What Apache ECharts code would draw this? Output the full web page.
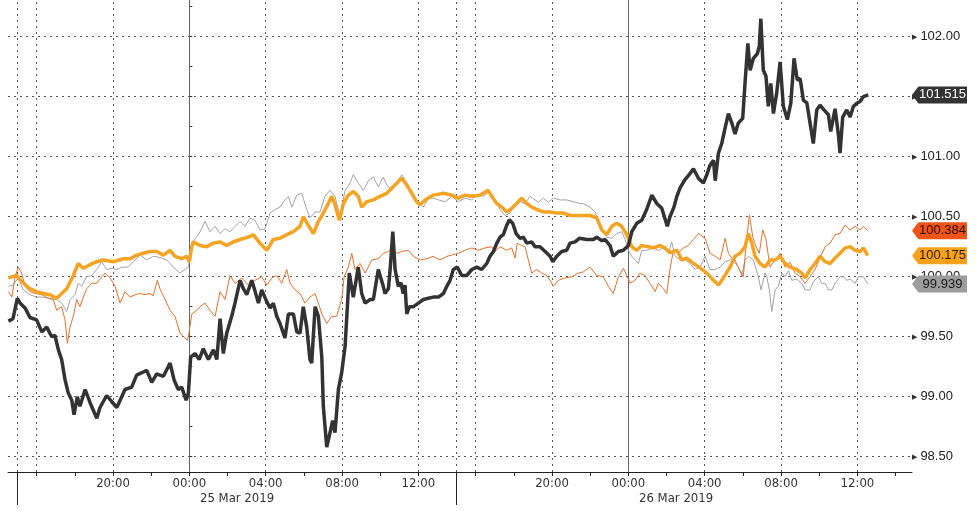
<!DOCTYPE html>
<html><head><meta charset="utf-8">
<script src="https://cdn.jsdelivr.net/npm/echarts@6/dist/echarts.min.js"></script>
<style>html,body{margin:0;padding:0;background:#fff}#c{width:976px;height:511px}</style>
</head><body><div id="c"></div>
<script>
// Time axis: trading-session hours measured from 00:00 25 Mar 2019 (the daily 14:00-15:00 break is skipped)
const blackData = [[-9.48,99.63],[-9.24,99.65],[-9.01,99.82],[-8.87,99.78],[-8.61,99.74],[-8.35,99.66],[-8.00,99.64],[-7.73,99.54],[-7.47,99.58],[-7.21,99.50],[-7.04,99.51],[-6.86,99.39],[-6.69,99.31],[-6.51,99.14],[-6.34,99.03],[-6.16,98.97],[-6.04,98.85],[-5.87,99.00],[-5.73,98.92],[-5.46,99.06],[-5.20,98.95],[-4.85,98.82],[-4.68,98.91],[-4.33,99.01],[-4.07,98.96],[-3.80,98.91],[-3.37,99.06],[-3.02,99.08],[-2.76,99.18],[-2.49,99.20],[-2.23,99.22],[-1.97,99.12],[-1.71,99.19],[-1.36,99.17],[-1.01,99.28],[-0.80,99.14],[-0.58,99.06],[-0.40,99.08],[-0.17,98.97],[-0.05,99.03],[0.07,99.33],[0.30,99.36],[0.52,99.31],[0.73,99.40],[1.00,99.31],[1.26,99.39],[1.44,99.31],[1.61,99.65],[1.78,99.36],[1.96,99.53],[2.22,99.67],[2.39,99.78],[2.66,99.97],[2.83,99.90],[3.01,99.85],[3.27,99.97],[3.44,99.88],[3.62,99.78],[3.79,99.89],[4.06,99.79],[4.23,99.74],[4.40,99.78],[4.58,99.67],[4.75,99.61],[5.01,99.49],[5.19,99.69],[5.45,99.69],[5.63,99.54],[5.80,99.53],[5.97,99.75],[6.15,99.58],[6.32,99.31],[6.41,99.28],[6.59,99.75],[6.76,99.67],[6.94,99.33],[7.02,98.92],[7.20,98.58],[7.37,98.70],[7.51,98.80],[7.63,98.70],[7.81,99.06],[7.98,99.20],[8.16,99.42],[8.38,100.03],[8.59,99.83],[8.85,100.08],[9.03,99.86],[9.21,99.78],[9.47,99.81],[9.64,99.81],[9.90,100.06],[10.16,99.92],[10.25,99.86],[10.43,99.90],[10.52,100.06],[10.66,100.375],[10.78,100.06],[10.95,99.92],[11.08,99.95],[11.21,99.86],[11.30,99.93],[11.39,99.69],[11.53,99.75],[11.74,99.75],[12.00,99.78],[12.26,99.81],[12.52,99.82],[12.78,99.83],[13.05,99.83],[13.31,99.86],[13.49,99.92],[13.66,99.97],[13.83,100.06],[14.04,100.08],[14.27,100.01],[14.53,100.01],[14.80,100.06],[15.06,100.08],[15.32,100.06],[15.58,100.11],[15.75,100.17],[15.93,100.21],[16.11,100.28],[16.28,100.33],[16.45,100.35],[16.63,100.43],[16.77,100.475],[16.94,100.445],[17.12,100.36],[17.33,100.32],[17.50,100.33],[17.68,100.28],[17.94,100.29],[18.11,100.25],[18.37,100.25],[18.64,100.21],[18.90,100.17],[19.04,100.125],[19.25,100.17],[19.51,100.21],[19.77,100.22],[19.95,100.28],[20.21,100.29],[20.43,100.32],[20.82,100.31],[21.17,100.31],[21.34,100.33],[21.61,100.30],[21.78,100.31],[22.04,100.26],[22.21,100.17],[22.48,100.21],[22.74,100.22],[23.00,100.26],[23.18,100.375],[23.44,100.445],[23.70,100.47],[23.96,100.56],[24.23,100.68],[24.49,100.61],[24.75,100.57],[25.04,100.42],[25.18,100.50],[25.39,100.58],[25.54,100.67],[25.71,100.74],[25.97,100.81],[26.23,100.86],[26.41,100.90],[26.67,100.82],[26.93,100.78],[27.11,100.85],[27.28,100.93],[27.46,100.97],[27.55,100.80],[27.72,101.03],[27.89,101.11],[28.07,101.24],[28.24,101.36],[28.42,101.28],[28.59,101.19],[28.76,101.28],[28.99,101.32],[29.11,101.61],[29.26,101.945],[29.38,101.72],[29.55,101.82],[29.76,101.86],[29.86,101.92],[29.94,102.15],[30.07,101.72],[30.21,101.67],[30.33,101.42],[30.46,101.61],[30.60,101.36],[30.77,101.53],[30.95,101.79],[31.12,101.42],[31.33,101.31],[31.51,101.445],[31.68,101.82],[31.85,101.64],[32.00,101.65],[32.17,101.47],[32.35,101.45],[32.52,101.28],[32.69,101.11],[32.87,101.39],[33.04,101.43],[33.25,101.39],[33.48,101.35],[33.60,101.21],[33.83,101.40],[34.00,101.19],[34.09,101.03],[34.23,101.33],[34.44,101.39],[34.62,101.33],[34.79,101.42],[34.97,101.445],[35.14,101.46],[35.31,101.50],[35.57,101.515]];

const amberData = [[-9.48,99.99],[-9.04,100.01],[-8.78,99.96],[-8.35,99.90],[-8.00,99.875],[-7.65,99.86],[-7.30,99.85],[-6.95,99.82],[-6.69,99.86],[-6.42,99.90],[-6.08,100.01],[-5.82,100.11],[-5.55,100.07],[-5.20,100.10],[-4.85,100.125],[-4.51,100.14],[-3.98,100.125],[-3.46,100.15],[-3.11,100.15],[-2.76,100.18],[-2.41,100.195],[-2.06,100.21],[-1.71,100.21],[-1.36,100.18],[-1.01,100.22],[-0.75,100.17],[-0.40,100.15],[-0.14,100.17],[0.00,100.125],[0.13,100.25],[0.21,100.29],[0.56,100.26],[0.91,100.25],[1.26,100.28],[1.61,100.29],[1.96,100.26],[2.31,100.29],[2.66,100.31],[3.09,100.33],[3.35,100.35],[3.70,100.28],[4.06,100.22],[4.40,100.31],[4.75,100.32],[5.10,100.35],[5.45,100.375],[5.80,100.42],[5.97,100.50],[6.23,100.43],[6.50,100.36],[6.76,100.46],[7.02,100.53],[7.28,100.61],[7.46,100.67],[7.63,100.60],[7.86,100.47],[8.07,100.61],[8.33,100.68],[8.59,100.71],[8.85,100.67],[9.03,100.58],[9.29,100.625],[9.64,100.64],[9.99,100.67],[10.34,100.695],[10.68,100.75],[11.13,100.82],[11.39,100.765],[11.65,100.695],[11.91,100.625],[12.09,100.60],[12.35,100.64],[12.78,100.68],[13.31,100.695],[13.75,100.68],[14.09,100.655],[14.44,100.68],[14.80,100.67],[15.23,100.68],[15.66,100.72],[15.84,100.67],[16.11,100.61],[16.37,100.58],[16.63,100.54],[16.89,100.57],[17.15,100.61],[17.41,100.655],[17.68,100.61],[17.94,100.58],[18.20,100.56],[18.55,100.54],[18.90,100.54],[19.25,100.53],[19.60,100.53],[19.95,100.51],[20.30,100.51],[20.64,100.51],[20.99,100.51],[21.34,100.49],[21.61,100.39],[21.87,100.35],[22.13,100.42],[22.39,100.445],[22.65,100.42],[22.92,100.35],[23.18,100.25],[23.44,100.22],[23.70,100.26],[24.05,100.25],[24.31,100.24],[24.66,100.26],[24.92,100.24],[25.18,100.20],[25.54,100.22],[25.80,100.14],[26.06,100.155],[26.41,100.11],[26.71,100.08],[27.11,100.03],[27.46,99.97],[27.72,99.93],[27.98,99.99],[28.33,100.08],[28.59,100.17],[28.85,100.195],[29.11,100.25],[29.29,100.36],[29.47,100.28],[29.64,100.17],[29.90,100.11],[30.16,100.08],[30.42,100.14],[30.69,100.14],[30.95,100.17],[31.21,100.11],[31.47,100.08],[31.82,100.06],[32.08,100.03],[32.26,99.99],[32.52,100.06],[32.78,100.11],[33.04,100.17],[33.31,100.125],[33.57,100.11],[33.83,100.155],[34.09,100.195],[34.35,100.24],[34.62,100.25],[34.88,100.22],[35.14,100.21],[35.31,100.24],[35.54,100.175]];

const redData = [[-9.48,99.875],[-9.30,99.83],[-9.13,100.0],[-8.96,100.08],[-8.78,100.03],[-8.61,99.92],[-8.35,99.875],[-8.08,99.86],[-7.73,99.85],[-7.39,99.82],[-7.13,99.81],[-6.95,99.72],[-6.69,99.75],[-6.51,99.64],[-6.39,99.445],[-6.25,99.58],[-6.08,99.67],[-5.90,99.81],[-5.73,99.75],[-5.55,99.83],[-5.38,99.90],[-5.11,99.945],[-4.85,99.945],[-4.59,100.0],[-4.42,100.03],[-4.15,99.99],[-3.89,99.92],[-3.63,99.78],[-3.37,99.875],[-3.11,99.83],[-2.84,99.85],[-2.58,99.86],[-2.32,99.85],[-2.06,99.86],[-1.89,99.84],[-1.68,99.97],[-1.54,99.90],[-1.27,99.81],[-1.01,99.72],[-0.75,99.67],[-0.49,99.53],[-0.31,99.50],[-0.10,99.47],[-0.02,99.53],[0.13,99.69],[0.30,99.71],[0.56,99.75],[0.82,99.78],[1.08,99.72],[1.35,99.67],[1.61,99.875],[1.87,99.81],[2.13,100.01],[2.39,99.945],[2.75,99.99],[3.09,99.93],[3.44,99.97],[3.79,100.0],[4.06,99.93],[4.32,99.99],[4.58,100.01],[4.84,99.945],[5.10,100.06],[5.28,99.945],[5.54,99.89],[5.80,99.86],[6.06,99.78],[6.32,99.83],[6.59,99.86],[6.76,99.78],[6.94,99.69],[7.20,99.61],[7.46,99.67],[7.72,99.67],[7.98,99.81],[8.11,100.0],[8.33,100.08],[8.51,100.195],[8.68,100.06],[8.94,100.11],[9.21,100.03],[9.56,100.14],[9.90,100.15],[10.16,100.195],[10.43,100.21],[10.61,100.24],[10.87,100.195],[11.13,100.21],[11.47,100.22],[11.74,100.17],[12.09,100.14],[12.44,100.15],[12.78,100.17],[13.13,100.14],[13.49,100.17],[13.75,100.18],[14.09,100.195],[14.44,100.22],[14.80,100.24],[15.14,100.22],[15.49,100.24],[15.84,100.25],[16.01,100.21],[16.28,100.25],[16.63,100.22],[16.89,100.24],[17.06,100.155],[17.18,100.28],[17.41,100.26],[17.59,100.25],[17.76,100.14],[17.94,100.03],[18.20,100.06],[18.46,100.03],[18.72,100.01],[18.90,99.97],[19.07,99.92],[19.33,99.97],[19.68,99.99],[20.04,100.0],[20.38,100.03],[20.64,100.04],[20.99,100.08],[21.34,100.01],[21.69,100.0],[21.95,99.92],[22.21,99.86],[22.48,100.0],[22.74,100.07],[22.92,100.01],[23.09,99.945],[23.35,99.97],[23.61,100.03],[23.87,100.01],[24.13,99.945],[24.40,99.875],[24.57,99.945],[24.83,99.90],[25.01,99.86],[25.18,100.06],[25.36,100.22],[25.62,100.195],[25.88,100.24],[26.14,100.26],[26.41,100.31],[26.67,100.36],[27.02,100.32],[27.28,100.195],[27.55,100.17],[27.81,100.14],[28.07,100.32],[28.24,100.195],[28.50,100.14],[28.76,100.08],[29.02,100.0],[29.20,100.31],[29.34,100.515],[29.52,100.33],[29.69,100.25],[29.86,100.195],[30.04,100.39],[30.21,100.31],[30.42,100.08],[30.69,100.14],[30.95,100.195],[31.21,100.08],[31.47,100.12],[31.74,100.03],[32.00,100.0],[32.26,99.945],[32.52,100.0],[32.78,100.06],[33.04,100.155],[33.31,100.25],[33.57,100.28],[33.83,100.35],[34.09,100.36],[34.35,100.43],[34.62,100.39],[34.88,100.42],[35.14,100.39],[35.31,100.42],[35.54,100.384]];

const greyData = [[-9.48,99.92],[-9.24,99.93],[-8.96,99.99],[-8.70,99.89],[-8.35,99.85],[-8.00,99.83],[-7.65,99.83],[-7.30,99.82],[-6.95,99.81],[-6.69,99.78],[-6.42,99.71],[-6.25,99.81],[-5.99,99.85],[-5.82,99.945],[-5.64,99.92],[-5.38,100.0],[-5.11,100.01],[-4.85,100.06],[-4.59,100.125],[-4.33,100.06],[-4.07,100.07],[-3.80,100.06],[-3.54,100.08],[-3.20,100.08],[-2.93,100.125],[-2.58,100.18],[-2.23,100.14],[-1.89,100.17],[-1.54,100.16],[-1.18,100.14],[-0.84,100.08],[-0.49,100.03],[-0.23,100.06],[-0.05,100.08],[0.13,100.29],[0.39,100.33],[0.56,100.375],[0.82,100.46],[1.08,100.375],[1.35,100.42],[1.61,100.36],[1.87,100.40],[2.13,100.375],[2.39,100.42],[2.66,100.46],[2.92,100.42],[3.18,100.49],[3.44,100.47],[3.70,100.39],[3.97,100.40],[4.23,100.53],[4.49,100.56],[4.75,100.58],[5.01,100.64],[5.19,100.67],[5.37,100.58],[5.63,100.68],[5.89,100.695],[6.15,100.56],[6.32,100.49],[6.59,100.54],[6.85,100.54],[7.11,100.67],[7.37,100.72],[7.63,100.67],[7.90,100.50],[8.16,100.72],[8.42,100.78],[8.59,100.85],[8.85,100.78],[9.12,100.72],[9.38,100.80],[9.64,100.83],[9.90,100.75],[10.16,100.83],[10.34,100.765],[10.61,100.72],[10.87,100.79],[11.13,100.85],[11.39,100.78],[11.74,100.695],[12.00,100.61],[12.26,100.58],[12.52,100.655],[12.78,100.655],[13.05,100.64],[13.40,100.625],[13.75,100.67],[14.09,100.625],[14.44,100.655],[14.80,100.64],[15.06,100.68],[15.40,100.67],[15.75,100.71],[16.01,100.64],[16.28,100.56],[16.54,100.51],[16.80,100.53],[17.06,100.60],[17.33,100.625],[17.59,100.61],[17.85,100.67],[18.11,100.64],[18.29,100.62],[18.55,100.655],[18.81,100.62],[19.07,100.655],[19.42,100.64],[19.77,100.64],[20.12,100.625],[20.43,100.61],[20.64,100.61],[20.99,100.58],[21.26,100.54],[21.43,100.47],[21.61,100.39],[21.87,100.33],[22.13,100.32],[22.39,100.36],[22.65,100.375],[22.83,100.31],[23.00,100.22],[23.18,100.17],[23.35,100.14],[23.53,100.11],[23.70,100.22],[23.96,100.22],[24.31,100.24],[24.57,100.22],[24.83,100.24],[25.10,100.195],[25.27,100.29],[25.45,100.17],[25.71,100.14],[25.97,100.14],[26.23,100.11],[26.50,100.06],[26.76,100.08],[27.02,100.17],[27.28,100.06],[27.55,100.06],[27.81,100.08],[28.07,100.125],[28.33,100.14],[28.59,100.14],[28.76,100.08],[28.94,100.01],[29.11,100.14],[29.29,100.17],[29.55,100.14],[29.81,100.0],[29.95,99.89],[30.16,100.03],[30.25,100.0],[30.39,99.89],[30.51,99.71],[30.69,99.89],[30.86,99.92],[31.04,100.03],[31.21,100.0],[31.39,100.05],[31.56,99.97],[31.82,99.98],[32.08,99.945],[32.26,99.89],[32.52,99.89],[32.69,99.96],[32.96,100.0],[33.13,99.945],[33.31,99.945],[33.48,99.89],[33.66,99.89],[33.83,99.945],[34.09,100.0],[34.27,100.0],[34.44,99.97],[34.62,99.98],[34.88,99.945],[35.05,100.0],[35.31,100.0],[35.54,99.939]];

const yLabelValues = [98.5, 99, 99.5, 100, 100.5, 101, 101.5, 102];
const yTickValues = [98.5, 98.75, 99, 99.25, 99.5, 99.75, 100, 100.25, 100.5, 100.75, 101, 101.25, 101.5, 101.75, 102, 102.25];
const xLabelHours = [-4, 0, 4, 8, 12, 19, 23, 27, 31, 35];
const xTickHours = [-8, -6, -4, -2, 0, 2, 4, 6, 8, 10, 12, 14, 15, 17, 19, 21, 23, 25, 27, 29, 31, 33, 35, 37];
const dottedGridHours = [-9, -8, -4, 4, 8, 12, 14, 15, 19, 27, 31, 35];
const midnightHours = [0, 23];
const sessionStartHours = [-9, 14];
const dateLabelHours = [2.5, 25.5];
const dateLabels = ['25 Mar 2019', '26 Mar 2019'];
const breakAfterHour = 14; // 14:00-15:00 break skipped on the axis

const X_MIN = -9.5, X_MAX = 37.86, Y_MIN = 98.3725, Y_MAX = 102.306;
const AXIS_FONT = '"DejaVu Sans Condensed", "Liberation Sans", sans-serif';

function clockLabel(u) {
  const h = u > breakAfterHour ? u + 1 : u;
  const hh = ((Math.round(h) % 24) + 24) % 24;
  return String(hh).padStart(2, '0') + ':00';
}

const chart = echarts.init(document.getElementById('c'), null, {renderer: 'canvas'});
const gridDash = [2, 4];

function tag(data, bg, fg) {
  const last = data[data.length - 1][1];
  return {
    silent: true,
    symbol: 'path://M0,8L7,0L60,0L60,16L7,16Z',
    symbolSize: [55, 17],
    symbolKeepAspect: false,
    symbolOffset: ['50%', 0],
    itemStyle: {color: bg},
    label: {show: true, position: 'inside', offset: [3, 0], color: fg, fontSize: 13,
      fontFamily: 'Liberation Sans', formatter: () => last.toFixed(3)},
    data: [{coord: [X_MAX, last]}]
  };
}

const option = {
  animation: false,
  backgroundColor: '#ffffff',
  grid: {left: 8, right: 64, top: 0, bottom: 39},
  xAxis: [{
    type: 'value', min: X_MIN, max: X_MAX, position: 'bottom',
    axisLine: {show: true, lineStyle: {color: '#222', width: 1}},
    axisTick: {show: true, customValues: xTickHours, length: 4, lineStyle: {color: '#222'}},
    axisLabel: {show: true, customValues: xLabelHours, formatter: v => clockLabel(v),
      color: '#333', fontSize: 13, fontFamily: AXIS_FONT, margin: 5},
    splitLine: {show: false}
  }, {
    type: 'value', min: X_MIN, max: X_MAX, position: 'bottom',
    axisLine: {show: false},
    axisTick: {show: true, customValues: sessionStartHours, length: 33, lineStyle: {color: '#222'}},
    axisLabel: {show: true, customValues: dateLabelHours,
      formatter: v => dateLabels[dateLabelHours.indexOf(v)],
      color: '#333', fontSize: 13, fontFamily: AXIS_FONT, margin: 20},
    splitLine: {show: false}
  }],
  yAxis: {
    type: 'value', position: 'right', min: Y_MIN, max: Y_MAX,
    axisLine: {show: true, lineStyle: {color: '#333', width: 1}},
    axisTick: {show: true, customValues: yTickValues, length: 3, lineStyle: {color: '#333'}},
    axisLabel: {show: true, customValues: yLabelValues, margin: 0,
      formatter: v => '{t|\u25B6}{v|' + v.toFixed(2) + '}',
      rich: {
        t: {fontSize: 7, color: '#333', fontFamily: 'DejaVu Sans', padding: [0, 3, 0, 0]},
        v: {fontSize: 13, color: '#222', fontFamily: 'Liberation Sans'}
      }},
    splitLine: {show: false}
  },
  series: [
    {
      name: 'grey', type: 'line', data: greyData, showSymbol: false, clip: false,
      lineStyle: {color: '#a3a3a3', width: 1}, z: 2,
      markLine: {
        silent: true, symbol: 'none', z: 1, label: {show: false},
        data: [
          ...dottedGridHours.map(h => ({xAxis: h, lineStyle: {color: '#555', type: gridDash, width: 1}})),
          ...midnightHours.map(h => ({xAxis: h, lineStyle: {color: '#666', type: 'solid', width: 1}})),
          ...yLabelValues.map(v => ({yAxis: v, lineStyle: {color: '#555', type: gridDash, width: 1}}))
        ]
      },
      markPoint: tag(greyData, '#9c9c9c', '#1a1a1a')
    },
    {
      name: 'red', type: 'line', data: redData, showSymbol: false, clip: false,
      lineStyle: {color: '#e8702a', width: 1}, z: 3,
      markPoint: tag(redData, '#f05516', '#2a0a00')
    },
    {
      name: 'amber', type: 'line', data: amberData, showSymbol: false, clip: false,
      lineStyle: {color: '#f5a322', width: 3.5}, z: 4,
      markPoint: tag(amberData, '#f8a21c', '#2a1a00')
    },
    {
      name: 'black', type: 'line', data: blackData, showSymbol: false, clip: false,
      lineStyle: {color: '#333333', width: 3.5}, z: 5,
      markPoint: tag(blackData, '#333333', '#ffffff')
    }
  ]
};
chart.setOption(option);
</script>
</body></html>
